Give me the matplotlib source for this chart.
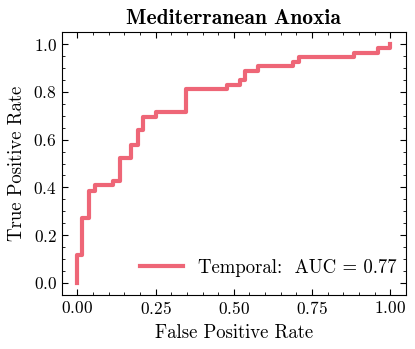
import matplotlib
matplotlib.use("Agg")
import matplotlib.pyplot as plt
from matplotlib.ticker import MultipleLocator

# ROC curve (step corners)
fpr = [0.0, 0.0, 0.016, 0.037, 0.056, 0.114, 0.136, 0.171, 0.192, 0.21, 0.251,
       0.347, 0.478, 0.519, 0.536, 0.576, 0.69, 0.709, 0.883, 0.96, 1.0]
tpr = [0.0, 0.118, 0.272, 0.387, 0.408, 0.426, 0.522, 0.579, 0.639, 0.695, 0.716,
       0.81, 0.829, 0.849, 0.888, 0.908, 0.924, 0.944, 0.961, 0.982, 1.0]
auc_value = 0.77
label_name = "Temporal"
title = "Mediterranean Anoxia"

plt.rcParams["font.family"] = "cmr10"
plt.rcParams["axes.unicode_minus"] = False
plt.rcParams["axes.formatter.use_mathtext"] = True
plt.rcParams["mathtext.fontset"] = "cm"

fig = plt.figure(figsize=(4.15, 3.49), dpi=100)
ax = fig.add_axes([0.149, 0.155, 0.829, 0.753])

ax.plot(fpr, tpr, drawstyle="steps-post", color="#EE6677", lw=3,
        label=f"{label_name}:  AUC = {auc_value:.2f}")

ax.set_xlabel("False Positive Rate", fontsize=13.5, labelpad=5)
ax.set_ylabel("True Positive Rate", fontsize=13.5, labelpad=5)
ax.set_title(title, fontsize=15.5, fontfamily="cmb10", pad=6)

ax.xaxis.set_major_locator(MultipleLocator(0.25))
ax.xaxis.set_minor_locator(MultipleLocator(0.05))
ax.yaxis.set_major_locator(MultipleLocator(0.2))
ax.yaxis.set_minor_locator(MultipleLocator(0.05))
ax.tick_params(which="both", direction="in", top=True, right=True, labelsize=12.5)
ax.tick_params(which="major", length=4)
ax.tick_params(which="minor", length=2)

ax.legend(loc="lower right", frameon=False, fontsize=13.5, handlelength=2.3,
          bbox_to_anchor=(1.023, 0.005))

fig.savefig("out.png", dpi=100)
